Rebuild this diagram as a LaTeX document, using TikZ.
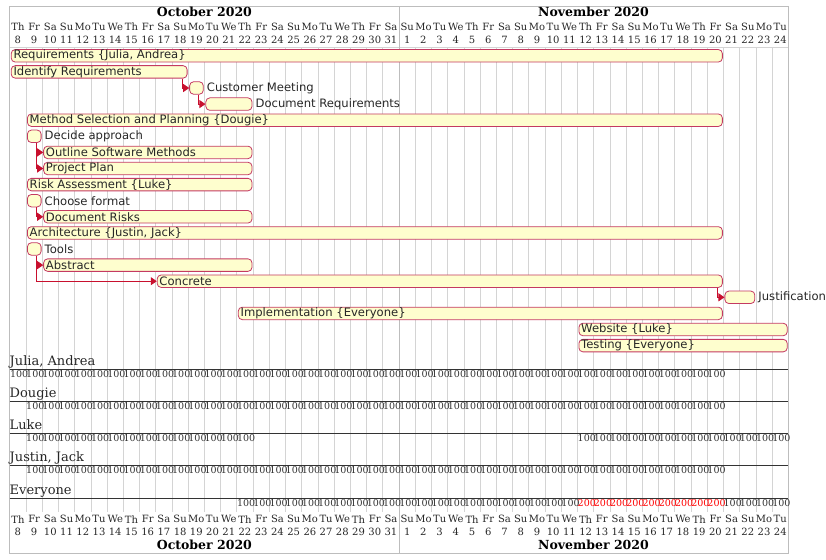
\documentclass[tikz,border=0pt]{standalone}
\usepackage{fontspec}
\setmainfont[Ligatures={NoCommon,NoRare}]{DejaVu Serif}
\newfontfamily\labfont{DejaVu Sans}
\usetikzlibrary{arrows.meta}
\definecolor{barf}{HTML}{FEFECE}
\definecolor{barc}{HTML}{C43A62}
\definecolor{arrc}{HTML}{C8102E}
\definecolor{gridc}{HTML}{D4D4D4}
\definecolor{framec}{HTML}{BDBDBD}
\newcommand\dname[1]{\ifcase#1 T\kern0pt h\or Fr\or Sa\or Su\or Mo\or Tu\or We\fi}
\newcommand\taskin[5]{%
  \pgfmathsetmacro\bw{(#3-#2+1)*16.22-2.5}%
  \node[bar, minimum width=\bw pt] (#1) at ({9.8+#2*16.22+1}, {55.8+#4*16.1}) {};
  \node[lab] (#1-t) at ([xshift=2.5pt]#1.west) {#5};
}
\newcommand\taskout[5]{%
  \pgfmathsetmacro\bw{(#3-#2+1)*16.22-2.5}%
  \node[bar, minimum width=\bw pt] (#1) at ({9.8+#2*16.22+1}, {55.8+#4*16.1}) {};
  \node[lab] (#1-t) at ([xshift=3pt]#1.east) {#5};
}
\begin{document}
\begin{tikzpicture}[x=1pt,y=-1pt,
  bar/.style={draw=barc, fill=barf, rounded corners=4pt, minimum height=12.5pt, inner sep=0pt, line width=0.8pt, anchor=west},
  lab/.style={anchor=west, inner sep=0pt, font=\labfont\fontsize{11.6}{12}\selectfont, text=black!85},
  dep/.style={draw=arrc, line width=0.9pt, -{Triangle[length=6pt,width=8pt]}},
  dayt/.style={font=\fontsize{10}{11}\selectfont, text=black!85, inner sep=0pt},
  montht/.style={font=\bfseries\fontsize{12.5}{14}\selectfont, inner sep=0pt},
  rest/.style={font=\fontsize{13}{14}\selectfont, anchor=base west, inner sep=0pt, text=black!85},
  val/.style={font=\fontsize{9.5}{10}\selectfont, anchor=west, inner sep=0pt, text=black!80},
  valr/.style={val, text=red},
]
\useasboundingbox (0,0) rectangle (826,559);
% grid
\foreach \d in {1,...,47} {
  \draw[gridc, line width=0.8pt] ({9.8+\d*16.22}, 47.7) -- ({9.8+\d*16.22}, 511.5);
}
\draw[gridc, line width=0.8pt] (9.5,47.7) -- (788,47.7);
\draw[framec, line width=0.9pt] (399.1,6.3) -- (399.1,553);
\draw[framec, line width=1pt] (9.5,6.3) rectangle (788,553);
% header / footer
\node[montht] (octt) at (204.4,12.3) {October 2020};
\node[montht] (novt) at (593.5,12.3) {November 2020};
\node[montht] (octb) at (204.4,545.3) {October 2020};
\node[montht] (novb) at (593.5,545.3) {November 2020};
\foreach \d in {0,...,47} {
  \pgfmathtruncatemacro\dm{mod(\d,7)}
  \pgfmathtruncatemacro\num{\d<24 ? \d+8 : \d-23}
  \node[dayt] (dn\d) at ({9.8+(\d+0.5)*16.22}, 27) {\dname{\dm}};
  \node[dayt] (dd\d) at ({9.8+(\d+0.5)*16.22}, 39.8) {\num};
  \node[dayt] (fn\d) at ({9.8+(\d+0.5)*16.22}, 519.3) {\dname{\dm}};
  \node[dayt] (fd\d) at ({9.8+(\d+0.5)*16.22}, 532.2) {\num};
}
% tasks
\taskin{req}{0}{43}{0}{Requirements \{Julia, Andrea\}}
\taskin{idr}{0}{10}{1}{Identify Requirements}
\taskout{cm}{11}{11}{2}{Customer Meeting}
\taskout{dr}{12}{14}{3}{Document Requirements}
\taskin{msp}{1}{43}{4}{Method Selection and Planning \{Dougie\}}
\taskout{da}{1}{1}{5}{Decide approach}
\taskin{osm}{2}{14}{6}{Outline Software Methods}
\taskin{pp}{2}{14}{7}{Project Plan}
\taskin{ra}{1}{14}{8}{Risk Assessment \{Luke\}}
\taskout{cf}{1}{1}{9}{Choose format}
\taskin{drk}{2}{14}{10}{Document Risks}
\taskin{arc}{1}{43}{11}{Architecture \{Justin, Jack\}}
\taskout{tools}{1}{1}{12}{Tools}
\taskin{abs}{2}{14}{13}{Abstract}
\taskin{conc}{9}{43}{14}{Concrete}
\taskout{just}{44}{45}{15}{Justification}
\taskin{impl}{14}{43}{16}{Implementation \{Everyone\}}
\taskin{web}{35}{47}{17}{Website \{Luke\}}
\taskin{test}{35}{47}{18}{Testing \{Everyone\}}
% dependencies
\draw[dep] ([xshift=-5pt]idr.south east) |- (cm.west);
\draw[dep] ([xshift=-5pt]cm.south east) |- (dr.west);
\draw[dep] ([xshift=-5.5pt]da.south east) |- (osm.west);
\draw[dep] ([xshift=-5.5pt]da.south east) |- (pp.west);
\draw[dep] ([xshift=-5.5pt]cf.south east) |- (drk.west);
\draw[dep] ([xshift=-5.5pt]tools.south east) |- (abs.west);
\draw[dep] ([xshift=-5.5pt]tools.south east) |- (conc.west);
\draw[dep] ([xshift=-5.5pt]conc.south east) |- (just.west);
% resources
\node[rest] (r1) at (9.5,365.5) {Julia, Andrea};
\node[rest] (r2) at (9.5,397.5) {Dougie};
\node[rest] (r3) at (9.5,429.5) {Luke};
\node[rest] (r4) at (9.5,461.5) {Justin, Jack};
\node[rest] (r5) at (9.5,494.5) {Everyone};
\foreach \yy in {369.3,401.3,433.3,465.3,498.3} {
  \draw[black!80, line width=0.9pt] (9.5,\yy) -- (788,\yy);
}
\foreach \d in {0,...,43} { \node[val] at ({9.8+\d*16.22}, 374.5) {100}; }
\foreach \d in {1,...,43} { \node[val] at ({9.8+\d*16.22}, 406.5) {100}; }
\foreach \d in {1,...,14,35,36,...,47} { \node[val] at ({9.8+\d*16.22}, 438.5) {100}; }
\foreach \d in {1,...,43} { \node[val] at ({9.8+\d*16.22}, 470.5) {100}; }
\foreach \d in {14,...,34,44,45,46,47} { \node[val] at ({9.8+\d*16.22}, 503.5) {100}; }
\foreach \d in {35,...,43} { \node[valr] at ({9.8+\d*16.22}, 503.5) {200}; }
\end{tikzpicture}
\end{document}
